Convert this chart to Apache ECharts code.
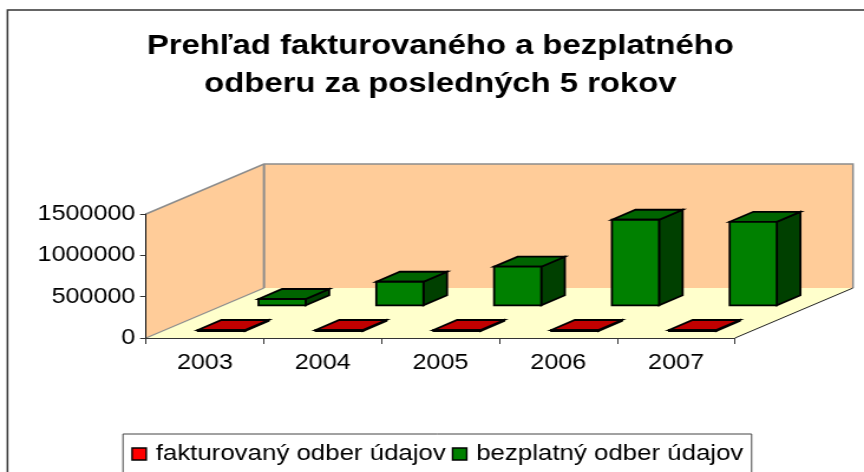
<!DOCTYPE html>
<html><head><meta charset="utf-8">
<style>html,body{margin:0;padding:0;background:#fff;overflow:hidden;width:864px;height:472px}
#c{width:732px;height:472px;transform-origin:0 0;transform:scaleX(1.1803)}</style>
<script src="https://cdn.jsdelivr.net/npm/echarts@6/dist/echarts.min.js"></script>
</head><body><div id="c"></div>
<script>
var years = ['2003','2004','2005','2006','2007'];
var fakturovany = [12000, 12000, 12000, 12000, 12000];
var bezplatny = [76000, 285000, 467000, 1035000, 1010000];
var seriesNames = ['fakturovaný odber údajov','bezplatný odber údajov'];
var titleText = 'Prehľad fakturovaného a bezplatného\nodberu za posledných 5 rokov';

var K = 864/732;
var DEPTH_X = 118/K, DEPTH_Y = 50, BAR_DEPTH = 0.2, BAR_W = 0.4;
var FONT = '"Liberation Sans", Arial, sans-serif';

function pathPoly(points, fill, stroke, lw){
  return {type:'polygon', shape:{points:points},
    style:{fill:fill, stroke:stroke, lineWidth:lw, lineJoin:'miter'}};
}
function barRenderer(depthFrac, faces){
  return function(params, api){
    var cat = api.value(0), val = api.value(1);
    var base = api.coord([cat,0]), top = api.coord([cat,val]);
    var w = api.size([1,0])[0]*BAR_W;
    var ox = depthFrac*DEPTH_X, oy = -depthFrac*DEPTH_Y;
    var dx = BAR_DEPTH*DEPTH_X, dy = -BAR_DEPTH*DEPTH_Y;
    var x0 = base[0]-w/2+ox, x1 = base[0]+w/2+ox;
    var yb = base[1]+oy, yt = top[1]+oy;
    return {type:'group', children:[
      pathPoly([[x1,yb],[x1,yt],[x1+dx,yt+dy],[x1+dx,yb+dy]], faces[2], '#000', 1.8),
      pathPoly([[x0,yt],[x1,yt],[x1+dx,yt+dy],[x0+dx,yt+dy]], faces[1], '#000', 1.8),
      pathPoly([[x0,yb],[x1,yb],[x1,yt],[x0,yt]], faces[0], '#000', 1.8)
    ]};
  };
}
function wallRenderer(params, api){
  var c = params.coordSys, L=c.x, R=c.x+c.width, T=c.y, B=c.y+c.height;
  var d=DEPTH_X, e=DEPTH_Y;
  var gray='#8c8c8c';
  return {type:'group', children:[
    pathPoly([[L,B],[L,T],[L+d,T-e],[L+d,B-e]], '#FFCC99', null, 0),
    pathPoly([[L+d,B-e],[L+d,T-e],[R+d,T-e],[R+d,B-e]], '#FFCC99', null, 0),
    pathPoly([[L,B],[R,B],[R+d,B-e],[L+d,B-e]], '#FFFFCC', null, 0),
    {type:'polyline', shape:{points:[[L,T],[L+d,T-e],[R+d,T-e],[R+d,B-e]]}, style:{fill:null,stroke:gray,lineWidth:1.5}},
    {type:'line', shape:{x1:L+d,y1:T-e,x2:L+d,y2:B-e}, style:{stroke:gray,lineWidth:2}},
    {type:'line', shape:{x1:L,y1:B,x2:L+d,y2:B-e}, style:{stroke:gray,lineWidth:1.2}},
    {type:'line', shape:{x1:R,y1:B,x2:R+d,y2:B-e}, style:{stroke:'#222',lineWidth:1}}
  ]};
}
var chart = echarts.init(document.getElementById('c'), null, {renderer:'canvas', width:732, height:472});
chart.setOption({
  animation:false,
  backgroundColor:'#fff',
  graphic:[{type:'rect', z:-1, shape:{x:7.5/K,y:10,width:800,height:500},
    style:{fill:'#fff',stroke:'#333',lineWidth:1.5}}],
  title:{text:titleText, left:434.5/K, top:22, textAlign:'center',
    textStyle:{fontFamily:FONT,fontWeight:'bold',fontSize:27.8,lineHeight:38,color:'#000'}},
  legend:{
    left:123/K, top:434, padding:[9,7,20,7], itemGap:5, itemWidth:12, itemHeight:12, icon:'rect',
    borderColor:'#444', borderWidth:1, backgroundColor:'#fff',
    textStyle:{fontFamily:FONT,fontSize:21.9,color:'#000',padding:[0,0,0,3]},
    data:[
      {name:seriesNames[0], itemStyle:{color:'#ff0000',borderColor:'#000',borderWidth:1.4}},
      {name:seriesNames[1], itemStyle:{color:'#008000',borderColor:'#000',borderWidth:1.4}}
    ]
  },
  grid:{left:146/K,top:214,width:589/K,height:124,containLabel:false},
  xAxis:{type:'category',data:years,boundaryGap:true,z:6,
    axisLine:{lineStyle:{color:'#333',width:1}},
    axisTick:{show:true,alignWithLabel:false,length:6,lineStyle:{color:'#333'}},
    axisLabel:{fontFamily:FONT,fontSize:21.3,color:'#000',margin:15},
    splitLine:{show:false}},
  yAxis:{type:'value',min:0,max:1500000,interval:500000,z:6,
    axisLine:{show:true,lineStyle:{color:'#111',width:1}},
    axisTick:{show:true,length:5,lineStyle:{color:'#333'}},
    axisLabel:{fontFamily:FONT,fontSize:21.3,color:'#000',margin:9,padding:[4,0,0,0],
      formatter:function(v){return String(v);}},
    splitLine:{show:false}},
  series:[
    {type:'custom',name:'walls',z:1,silent:true,clip:false,renderItem:wallRenderer,data:[[0,0]]},
    {type:'custom',name:seriesNames[1],z:2,clip:false,
      renderItem:barRenderer(0.654,['#008000','#006400','#004000']),
      itemStyle:{color:'#008000'},
      data:years.map(function(y,i){return [i,bezplatny[i]];})},
    {type:'custom',name:seriesNames[0],z:3,clip:false,
      renderItem:barRenderer(0.14,['#ff0000','#c00000','#800000']),
      itemStyle:{color:'#ff0000'},
      data:years.map(function(y,i){return [i,fakturovany[i]];})}
  ]
});
</script></body></html>
